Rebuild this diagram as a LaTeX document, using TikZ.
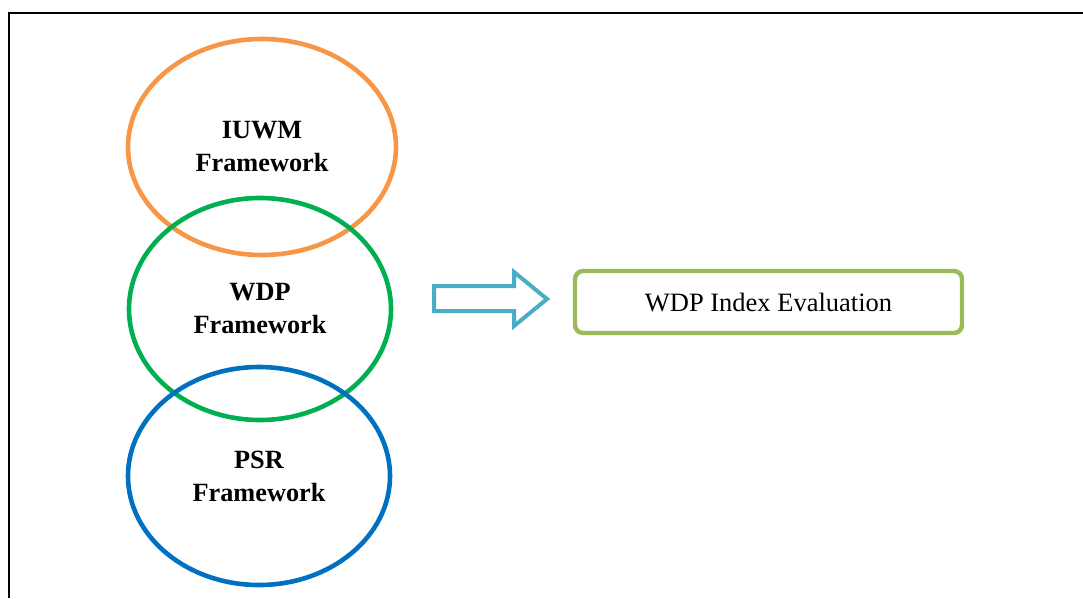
\documentclass[tikz,border=0pt]{standalone}
\usepackage{fontspec}
\setmainfont{Liberation Serif}
\usetikzlibrary{shapes.geometric}
\definecolor{iuwmc}{HTML}{F79646}
\definecolor{wdpc}{HTML}{00B050}
\definecolor{psrc}{HTML}{0070C0}
\definecolor{arrc}{HTML}{4BACC6}
\definecolor{boxc}{HTML}{9BBB59}
\begin{document}
\begin{tikzpicture}[x=1pt,y=-1pt,
  ring/.style={ellipse, line width=4.6pt, inner sep=0pt, align=center,
    font=\fontsize{26.3}{33}\selectfont\bfseries},
  evalbox/.style={draw=boxc, line width=4.4pt, rounded corners=8pt,
    minimum width=387pt, minimum height=62pt, inner sep=0pt,
    font=\fontsize{26.5}{32}\selectfont},
  frame/.style={line width=2.8pt, black}]
\useasboundingbox (0,0) rectangle (1083,598);
\draw[frame] (9,598) -- (9,13) -- (1083,13);
\node[ring, draw=iuwmc, minimum width=268pt, minimum height=216pt] (iuwm) at (262,147) {IUWM\\Framework};
\node[ring, draw=wdpc, minimum width=262pt, minimum height=222pt] (wdp) at (260,309) {WDP\\Framework};
\node[ring, draw=psrc, minimum width=262pt, minimum height=218pt] (psr) at (259,476) {PSR\\Framework};
\node[evalbox] (eval) at (768.5,302) {WDP Index Evaluation};
\draw[arrc, line width=4pt, line join=miter] (434,286) -- (514,286) -- (514,272) -- (547,299) -- (514,326) -- (514,311) -- (434,311) -- cycle;
\end{tikzpicture}
\end{document}
